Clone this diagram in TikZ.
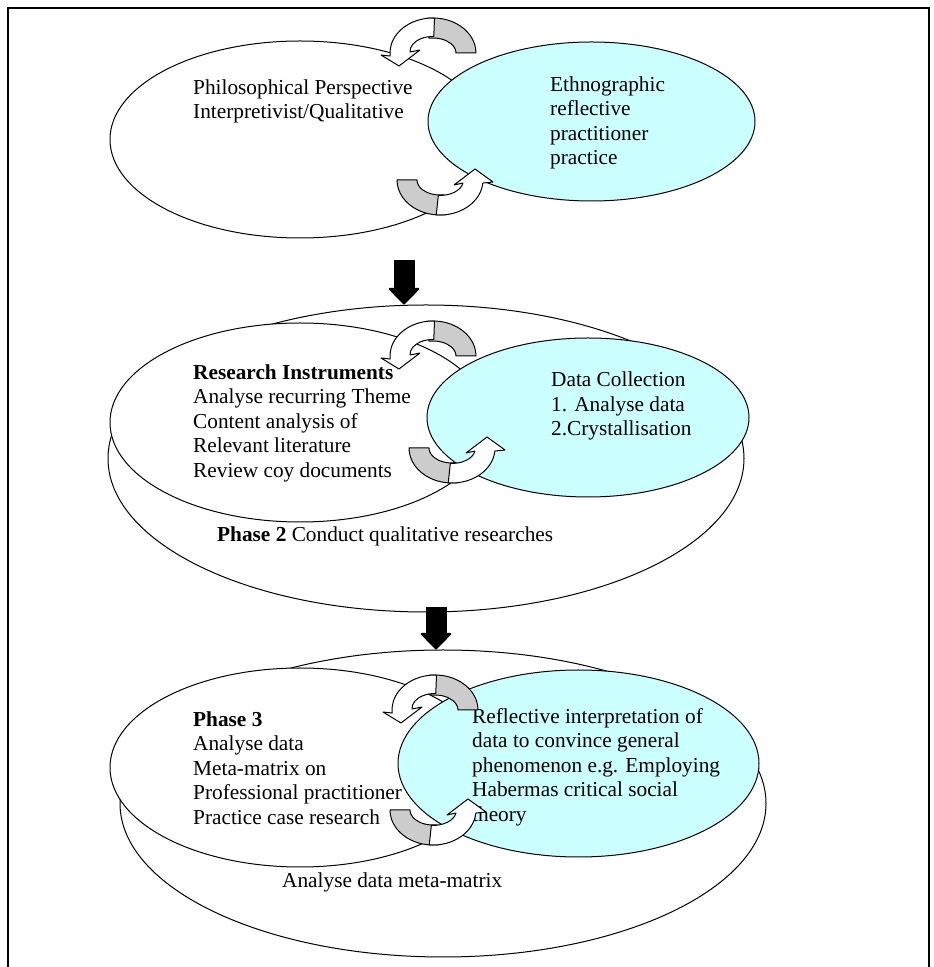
\documentclass[tikz,border=0pt]{standalone}
\usepackage{fontspec}
\setmainfont{Liberation Serif}
\usepackage{tikz}
\usetikzlibrary{shapes.geometric,arrows.meta}
\definecolor{paleblue}{RGB}{204,255,255}
\definecolor{lightgrey}{RGB}{204,204,204}
\tikzstyle{ring} = [draw=black, ellipse, line width=1pt, fill=white, inner sep=0pt]
\tikzstyle{bubble} = [ring, fill=paleblue]
\tikzstyle{txt} = [anchor=west, align=left, inner sep=0pt,
    font=\fontsize{21.3}{24.5}\selectfont]
\tikzstyle{band} = [draw=black, line width=1pt, line join=round]
\tikzstyle{bigarrow} = [line width=21pt,
    -{Triangle[length=17pt, width=33pt, round, line width=2pt]}]
% curved arrow over the top, head pointing down on the left
\newcommand{\turnback}[1]{
\begin{scope}[shift={(#1)}]
\filldraw[band, fill=lightgrey] (0:43pt and 35pt)
    arc[start angle=0, end angle=100, x radius=43pt, y radius=35pt]
    -- (100:23pt and 15pt)
    arc[start angle=100, end angle=0, x radius=23pt, y radius=15pt] -- cycle;
\filldraw[band, fill=white] (88:43pt and 35pt)
    arc[start angle=88, end angle=185, x radius=43pt, y radius=35pt]
    -- (-52pt,-2pt) -- (-34pt,-13pt) -- (-13pt,3pt) -- (-23pt,1pt)
    arc[start angle=182, end angle=88, x radius=23pt, y radius=15pt] -- cycle;
\end{scope}}
% curved arrow under the bottom, head pointing up on the right
\newcommand{\turnup}[1]{
\begin{scope}[shift={(#1)}]
\filldraw[band, fill=lightgrey] (180:43pt and 35pt)
    arc[start angle=180, end angle=280, x radius=43pt, y radius=35pt]
    -- (280:23pt and 15pt)
    arc[start angle=280, end angle=180, x radius=23pt, y radius=15pt] -- cycle;
\filldraw[band, fill=white] (265:43pt and 35pt)
    arc[start angle=265, end angle=355, x radius=43pt, y radius=35pt]
    -- (53pt,-2pt) -- (35pt,11pt) -- (14pt,-5pt) -- (23pt,-3pt)
    arc[start angle=350, end angle=265, x radius=23pt, y radius=15pt] -- cycle;
\end{scope}}

\begin{document}
\begin{tikzpicture}[x=1pt, y=1pt]
\useasboundingbox (0,0) rectangle (934,967);
\draw[line width=1.3pt] (8,0) -- (8,959) -- (929,959) -- (929,0);

% phase 1
\node[ring, minimum width=380pt, minimum height=197pt] (phil) at (300,827.5) {};
\node[bubble, minimum width=327pt, minimum height=159pt] (ethno) at (591.5,845.5) {};
\node[txt] (philtxt) at (193,865.5) {Philosophical Perspective\\Interpretivist/Qualitative};
\node[txt] (ethtxt) at (550,844) {Ethnographic\\reflective\\practitioner\\practice};
\turnback{433,914}
\turnup{440,787}

% phase 2
\node[ring, minimum width=636pt, minimum height=307pt] (phasetwo) at (426,508.5) {};
\node[ring, minimum width=380pt, minimum height=199pt] (instr) at (300,544.5) {};
\node[bubble, minimum width=322pt, minimum height=159pt] (collect) at (588,549.5) {};
\node[txt] (instxt) at (193,544) {\textbf{Research Instruments}\\Analyse recurring Theme\\Content analysis of\\Relevant literature\\Review coy documents};
\node[txt] (colltxt) at (551,561) {Data Collection\\1. Analyse data\\2.Crystallisation};
\node[txt] (lbltwo) at (217,431) {\textbf{Phase 2} Conduct qualitative researches};
\turnback{433,611}
\turnup{452,519}

% phase 3
\node[ring, minimum width=646pt, minimum height=307pt] (phasethree) at (443,163.5) {};
\node[ring, minimum width=380pt, minimum height=199pt] (analyse) at (300,199.5) {};
\node[bubble, minimum width=361pt, minimum height=187pt] (reflect) at (578.5,203.5) {};
\node[txt] (anatxt) at (193,199) {\textbf{Phase 3}\\Analyse data\\Meta-matrix on\\Professional practitioner\\Practice case research};
\node[txt] (refltxt) at (472,200) {Reflective interpretation of\\data to convince general\\phenomenon e.g. Employing\\Habermas critical social\\theory};
\node[txt] (lblthree) at (282,85) {Analyse data meta-matrix};
\turnback{435,257}
\turnup{433,157}

% arrows between the phases
\coordinate (go1) at (404,707);
\coordinate (go2) at (436,360);
\draw[bigarrow] (go1) -- (go1 |- phasetwo.north);
\draw[bigarrow] (go2) -- (go2 |- phasethree.north);
\end{tikzpicture}
\end{document}
